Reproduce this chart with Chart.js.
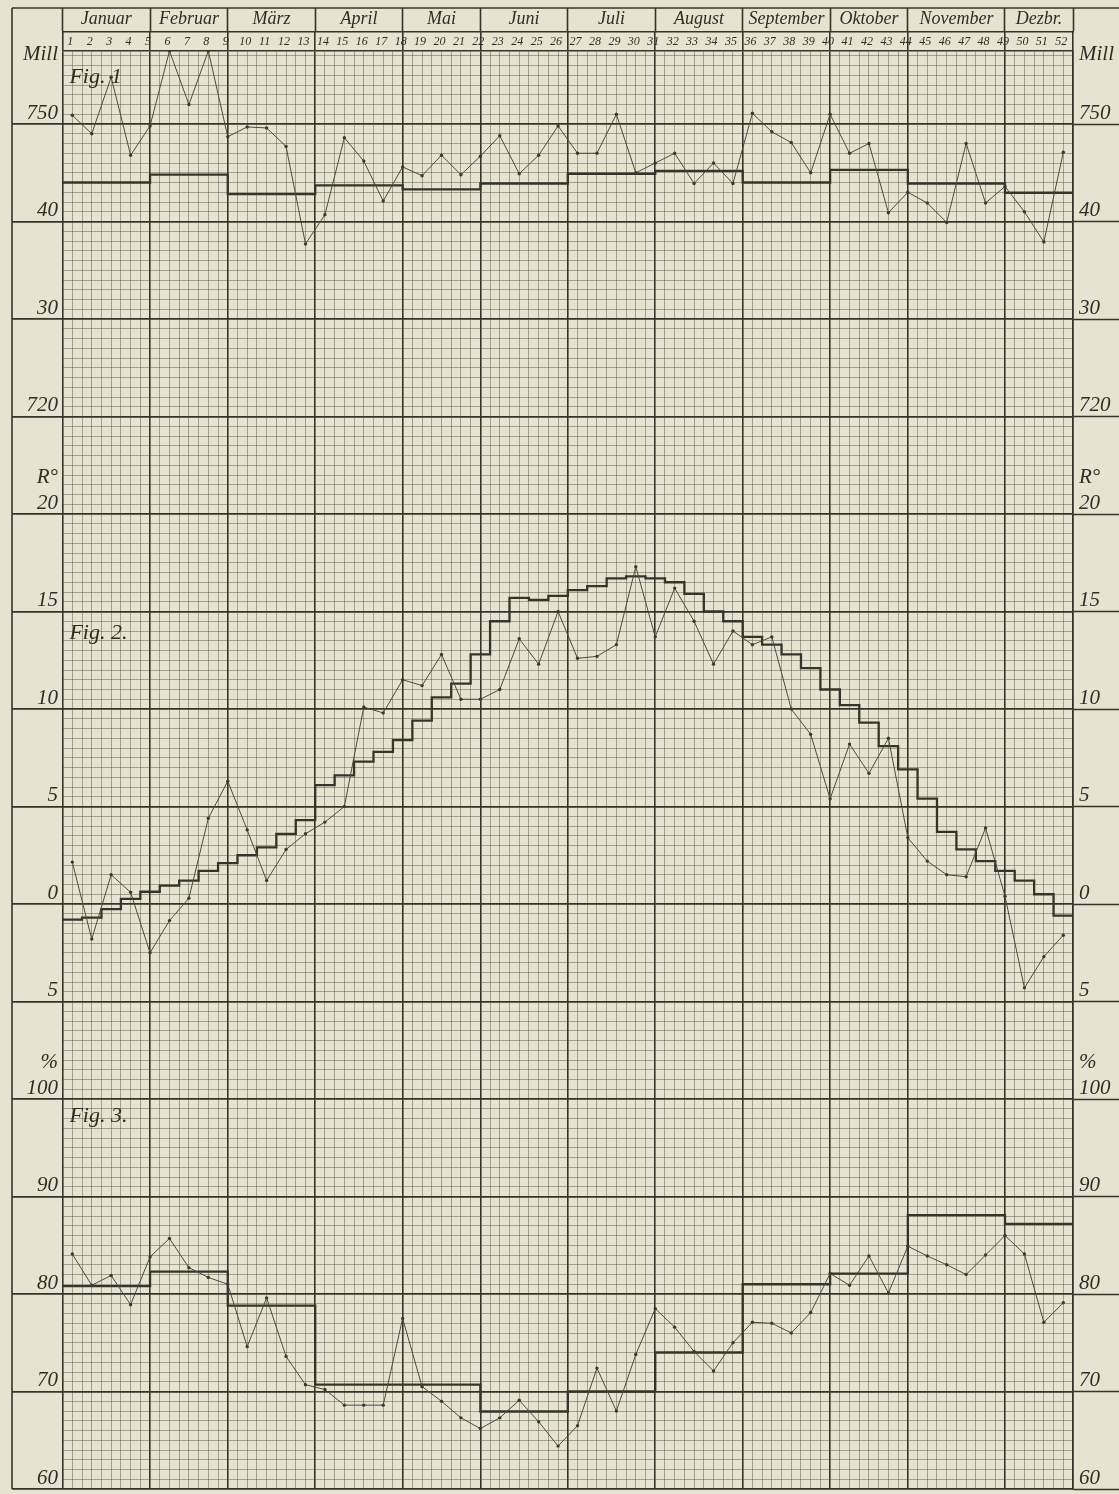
<!DOCTYPE html>
<html><head><meta charset="utf-8">
<script src="https://cdn.jsdelivr.net/npm/chart.js@4.4.1/dist/chart.umd.min.js"></script>
<style>
html,body{margin:0;padding:0;background:#e6e4d1;}
canvas{display:block;}
</style></head><body>
<canvas id="c" width="1119" height="1494"></canvas>
<script>
// ---------- categories ----------
const weekNumbers = [1,2,3,4,5,6,7,8,9,10,11,12,13,14,15,16,17,18,19,20,21,22,23,24,25,26,
  27,28,29,30,31,32,33,34,35,36,37,38,39,40,41,42,43,44,45,46,47,48,49,50,51,52];
const months = ['Januar','Februar','März','April','Mai','Juni','Juli','August','September','Oktober','November','Dezbr.'];
// month borders in week units
const monthBounds = [0.5, 5, 9, 13.5, 18, 22, 26.5, 31, 35.5, 40, 44, 49, 52.5];

// ---------- Fig. 1 : air pressure (Mill) ----------
const pressureWeekly = [750.9,749.0,754.8,746.8,749.8,757.5,752.0,757.5,748.7,749.7,749.6,747.7,737.7,740.7,748.6,746.2,
  742.1,745.6,744.7,746.8,744.8,746.7,748.8,744.9,746.8,749.8,747.0,747.0,751.0,745.0,746.0,747.0,743.9,746.0,743.9,
  751.1,749.2,748.1,745.0,751.0,747.0,748.0,740.9,743.0,741.9,739.9,748.0,741.9,743.6,741.0,737.9,747.1];
const pressureMonthly = [744.0,744.8,742.8,743.7,743.3,743.9,744.9,745.2,744.0,745.3,743.9,742.95];

// ---------- Fig. 2 : temperature (R°) ----------
const tempWeekly = [2.15,-1.8,1.5,0.6,-2.5,-0.85,0.3,4.4,6.3,3.8,1.2,2.8,3.6,4.2,5.0,10.1,9.8,11.5,11.2,12.8,10.5,10.5,
  11.0,13.6,12.3,15.0,12.6,12.7,13.3,17.3,13.7,16.2,14.5,12.3,14.0,13.3,13.7,10.0,8.7,5.4,8.2,6.7,8.5,3.4,2.2,1.5,
  1.4,3.9,0.4,-4.3,-2.7,-1.6];
const tempNormal = [-0.8,-0.7,-0.26,0.26,0.63,0.94,1.2,1.7,2.1,2.5,2.9,3.6,4.3,6.1,6.6,7.3,7.8,8.4,9.4,10.6,11.3,12.8,
  14.5,15.7,15.6,15.8,16.1,16.3,16.7,16.8,16.7,16.5,15.9,15.0,14.5,13.7,13.3,12.8,12.1,11.0,10.2,9.3,8.1,6.9,5.4,
  3.7,2.8,2.2,1.7,1.2,0.5,-0.6];

// ---------- Fig. 3 : relative humidity (%) ----------
const humidityWeekly = [84.1,80.9,81.9,78.9,83.8,85.7,82.7,81.7,81.0,74.6,79.6,73.6,70.7,70.2,68.6,68.6,68.6,77.5,70.5,
  69.0,67.3,66.2,67.3,69.1,66.9,64.4,66.5,72.4,68.0,73.8,78.5,76.6,74.1,72.1,75.0,77.1,77.0,76.0,78.1,82.1,80.9,
  83.9,80.1,84.9,83.9,83.0,82.0,84.0,86.0,84.1,77.1,79.1];
const humidityMonthly = [80.8,82.3,78.8,70.7,70.7,67.95,70.0,74.0,81.0,82.1,88.1,87.2];

// ---------- side scale labels (grid units: 1 unit = 1 mm = 0.5 R° = 1 %) ----------
const sideLabelUnits = [146,140,130,120,110,100,90,80,70,60,50,40,30,20,10,0];
const sideLabels = ['Mill','750','40','30','720',['R°','20',''],'15','10','5','0','5',['%','100',''],'90','80','70','60'];
const figLabels = ['Fig. 1','Fig. 2.','Fig. 3.'];

// ---------- styling ----------
const INK = '#34342c';
const FINE = 'rgba(72,72,58,0.55)';
const FONT = "'Liberation Serif', 'DejaVu Serif', serif";
const UNIT_MAX = 147.5;

const isBound = v => monthBounds.some(b => Math.abs(b - v) < 1e-6);
const isMajor = v => Math.abs(v % 10) < 1e-6;

const weeklyPts = arr => weekNumbers.map((w, i) => ({x: w, y: arr[i]}));
const stepPts = (bounds, vals) => bounds.map((b, i) => ({x: b, y: vals[Math.min(i, vals.length - 1)]}));
const normalBounds = weekNumbers.map(w => w - 0.5).concat([52.5]);

const thin = (data, axis) => ({data, yAxisID: axis, xAxisID: 'x', borderColor: '#4a4a40', borderWidth: 1,
  pointRadius: 1.7, pointBackgroundColor: '#3a3a32', pointBorderWidth: 0, tension: 0, fill: false});
const thick = (data, axis) => ({data, yAxisID: axis, xAxisID: 'x', borderColor: INK, borderWidth: 2.3,
  pointRadius: 0, stepped: 'before', tension: 0, fill: false});

const frame = {
  id: 'frame',
  beforeDraw(chart) {
    const c = chart.ctx;
    c.save();
    c.fillStyle = '#e6e4d1';
    c.fillRect(0, 0, chart.width, chart.height);
    c.restore();
  },
  afterDraw(chart) {
    const c = chart.ctx, a = chart.chartArea;
    c.save();
    c.strokeStyle = INK; c.lineWidth = 1.6;
    c.beginPath();
    c.moveTo(12, 8); c.lineTo(chart.width, 8);
    c.moveTo(12, 8); c.lineTo(12, a.bottom);
    c.stroke();
    // figure captions
    c.fillStyle = '#2e2e27';
    c.font = "italic 22px " + FONT;
    c.textBaseline = 'alphabetic';
    const x = chart.scales.x.getPixelForValue(0.85);
    c.fillText(figLabels[0], x, chart.scales.yP.getPixelForValue(754.2));
    c.fillText(figLabels[1], x, chart.scales.yT.getPixelForValue(13.6));
    c.fillText(figLabels[2], x, chart.scales.yH.getPixelForValue(97.6));
    c.restore();
  }
};

const sideLabel = v => {
  const i = sideLabelUnits.indexOf(v);
  return i >= 0 ? sideLabels[i] : '';
};
const unitTicks = s => {
  const t = [];
  for (let v = 0; v <= 147; v++) t.push({value: v});
  t.push({value: UNIT_MAX});
  s.ticks = t;
};
const gridColor = ctx => (ctx.tick && isMajor(ctx.tick.value)) ? INK : FINE;
const gridWidth = ctx => (ctx.tick && isMajor(ctx.tick.value)) ? 1.7 : 0.8;
const tickColor = ctx => (ctx.tick && isMajor(ctx.tick.value)) ? INK : 'rgba(0,0,0,0)';

new Chart(document.getElementById('c'), {
  type: 'line',
  data: {
    datasets: [
      thin(weeklyPts(pressureWeekly), 'yP'),
      thick(stepPts(monthBounds, pressureMonthly), 'yP'),
      thin(weeklyPts(tempWeekly), 'yT'),
      thick(stepPts(normalBounds, tempNormal), 'yT'),
      thin(weeklyPts(humidityWeekly), 'yH'),
      thick(stepPts(monthBounds, humidityMonthly), 'yH')
    ]
  },
  plugins: [frame],
  options: {
    responsive: false,
    devicePixelRatio: 1,
    animation: false,
    layout: {padding: {left: 12, right: 0, top: 8, bottom: 5}},
    plugins: {legend: {display: false}, tooltip: {enabled: false}},
    scales: {
      x: {
        type: 'linear', position: 'top', min: 0.5, max: 52.5, weight: 0,
        afterBuildTicks: s => { const t = []; for (let v = 1; v <= 105; v++) t.push({value: v / 2}); s.ticks = t; },
        afterFit: s => { s.height = 18.9; },
        ticks: {autoSkip: false, maxRotation: 0, minRotation: 0, padding: -17, color: '#2e2e27', labelOffset: -2,
          font: {family: FONT, style: 'italic', size: 12},
          callback: v => Number.isInteger(v) ? String(weekNumbers[v - 1]) : ''},
        grid: {
          color: ctx => (ctx.tick && isBound(ctx.tick.value)) ? INK : FINE,
          lineWidth: ctx => (ctx.tick && isBound(ctx.tick.value)) ? 1.6 : 0.8,
          drawTicks: true, tickLength: 18.9,
          tickColor: ctx => (ctx.tick && isBound(ctx.tick.value)) ? INK : 'rgba(0,0,0,0)',
          tickWidth: 1.6
        },
        border: {display: true, color: INK, width: 1.5}
      },
      xm: {
        type: 'linear', position: 'top', min: 0.5, max: 52.5, weight: 1,
        afterBuildTicks: s => {
          const t = [];
          for (let i = 0; i < months.length; i++) {
            t.push({value: monthBounds[i]});
            t.push({value: (monthBounds[i] + monthBounds[i + 1]) / 2});
          }
          t.push({value: monthBounds[monthBounds.length - 1]});
          s.ticks = t;
        },
        afterFit: s => { s.height = 24; },
        ticks: {autoSkip: false, maxRotation: 0, minRotation: 0, padding: -22, color: '#2e2e27',
          font: {family: FONT, style: 'italic', size: 18},
          callback: (v, i) => (i % 2 === 1) ? months[(i - 1) / 2] : ''},
        grid: {drawOnChartArea: false, drawTicks: true, tickLength: 24, tickWidth: 1.6,
          tickColor: ctx => (ctx.index % 2 === 0) ? INK : 'rgba(0,0,0,0)'},
        border: {display: true, color: INK, width: 1.5}
      },
      g: {
        type: 'linear', position: 'left', min: 0, max: UNIT_MAX,
        afterBuildTicks: unitTicks,
        afterFit: s => { s.width = 50.6; },
        ticks: {autoSkip: false, padding: -46, labelOffset: -11, color: '#2e2e27',
          font: {family: FONT, style: 'italic', size: 21}, callback: v => sideLabel(v)},
        grid: {color: gridColor, lineWidth: gridWidth, drawTicks: true, tickLength: 50.6,
          tickColor: tickColor, tickWidth: 1.7},
        border: {display: false}
      },
      gR: {
        type: 'linear', position: 'right', min: 0, max: UNIT_MAX,
        afterBuildTicks: unitTicks,
        afterFit: s => { s.width = 46; },
        ticks: {autoSkip: false, padding: -40, labelOffset: -11, color: '#2e2e27',
          font: {family: FONT, style: 'italic', size: 21}, callback: v => sideLabel(v)},
        grid: {drawOnChartArea: false, drawTicks: true, tickLength: 46, tickColor: tickColor, tickWidth: 1.7},
        border: {display: true, color: INK, width: 1.5}
      },
      yP: {type: 'linear', display: false, min: 610, max: 610 + UNIT_MAX},
      yT: {type: 'linear', display: false, min: -30, max: -30 + UNIT_MAX / 2},
      yH: {type: 'linear', display: false, min: 60, max: 60 + UNIT_MAX}
    }
  }
});
</script>
</body></html>
